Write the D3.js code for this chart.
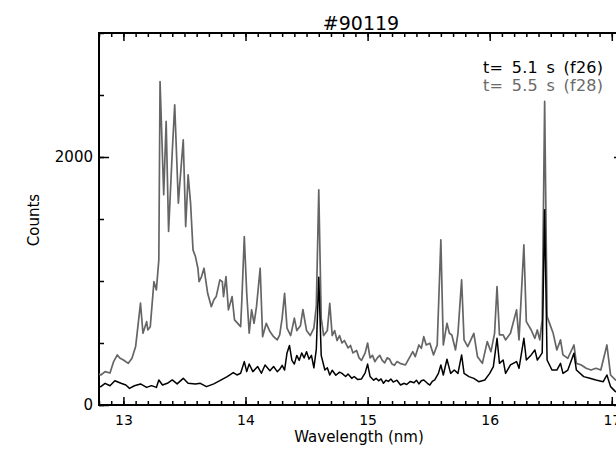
<!DOCTYPE html>
<html>
<head>
<meta charset="utf-8">
<script src="https://cdn.jsdelivr.net/npm/d3@7"></script>
<style>
  body { margin: 0; background: #fff; }
  svg { display: block; overflow: hidden; }
  text { font-family: "DejaVu Sans", sans-serif; }
</style>
</head>
<body>
<script>
// Spectrum #90119, two time frames
const wlLate = [12.80, 12.815, 12.85, 12.89, 12.92, 12.95, 12.97, 13.00, 13.04, 13.07, 13.10, 13.14, 13.16, 13.19, 13.20, 13.22,
  13.25, 13.27, 13.29, 13.30, 13.33, 13.35, 13.37, 13.40, 13.42, 13.45, 13.46, 13.49, 13.51, 13.53, 13.55, 13.57,
  13.59, 13.61, 13.62, 13.64, 13.66, 13.69, 13.72, 13.74, 13.76, 13.79, 13.81, 13.82, 13.84, 13.86, 13.89, 13.91,
  13.96, 13.97, 13.99, 14.01, 14.03, 14.05, 14.07, 14.09, 14.12, 14.14, 14.17, 14.20, 14.23, 14.26, 14.28, 14.30,
  14.32, 14.34, 14.37, 14.40, 14.42, 14.45, 14.47, 14.50, 14.53, 14.56, 14.58, 14.60, 14.62, 14.64, 14.67, 14.69,
  14.71, 14.73, 14.75, 14.77, 14.79, 14.81, 14.84, 14.86, 14.88, 14.91, 14.93, 14.95, 14.98, 15.00, 15.02, 15.04,
  15.06, 15.08, 15.10, 15.12, 15.14, 15.16, 15.18, 15.20, 15.22, 15.24,
  15.266, 15.31, 15.37, 15.39, 15.42, 15.44, 15.46, 15.48, 15.51, 15.54, 15.57, 15.60, 15.62, 15.65, 15.67, 15.69,
  15.72, 15.74, 15.77, 15.79, 15.82, 15.87, 15.90, 15.94, 15.98, 16.01, 16.04, 16.06, 16.08, 16.11, 16.13, 16.17,
  16.22, 16.24, 16.28, 16.30, 16.34, 16.37, 16.39, 16.41, 16.43, 16.45, 16.47, 16.50, 16.52, 16.55, 16.58, 16.60,
  16.64, 16.69, 16.71, 16.75, 16.79, 16.83, 16.87, 16.91, 16.96, 16.99, 17.03, 17.10];
const countsLate = [250, 242, 269, 258, 350, 404, 379, 363, 336, 377, 471, 821, 579, 672, 605, 632,
  995, 928, 1170, 2609, 1695, 2287, 1399, 2040, 2421, 1628, 1762, 2139, 1439, 1856, 1628, 1251,
  1197, 1103, 995, 1036, 1103, 901, 793, 847, 874, 1009, 995, 874, 1036, 767, 874, 686,
  632, 847, 1358, 901, 579, 767, 659, 793, 1103, 551, 659, 592, 551, 525, 565, 700,
  900, 620, 560, 700, 600, 640, 770, 600, 560, 620, 800, 1735, 700, 560, 600, 820,
  560, 600, 520, 560, 500, 520, 460, 480, 420, 440, 380, 360, 420, 500, 380, 400,
  350, 380, 400, 360, 340, 380, 370, 330, 320, 350,
  336, 323, 430, 390, 484, 457, 551, 484, 498, 404, 484, 1332, 484, 659, 578, 565,
  444, 578, 1009, 525, 471, 578, 390, 336, 511, 430, 578, 955, 565, 565, 525, 578,
  767, 525, 1291, 672, 605, 538, 605, 525, 686, 2448, 713, 632, 578, 444, 525, 404,
  377, 484, 336, 323, 296, 282, 296, 282, 484, 242, 202, 180];

const wlEarly = [12.80, 12.815, 12.85, 12.89, 12.93, 12.98, 13.02, 13.05, 13.09, 13.14, 13.19, 13.23, 13.27, 13.29, 13.32, 13.36,
  13.40, 13.44, 13.49, 13.53, 13.59, 13.63, 13.68, 13.74, 13.79, 13.85, 13.90, 13.93, 13.96, 13.99, 14.01, 14.03,
  14.06, 14.10, 14.13, 14.16, 14.20, 14.23, 14.26, 14.28, 14.30, 14.32, 14.34, 14.36, 14.38, 14.40, 14.42, 14.44,
  14.46, 14.48, 14.50, 14.52, 14.54, 14.56, 14.58, 14.60, 14.62, 14.65, 14.67, 14.69, 14.71, 14.74, 14.77, 14.79,
  14.82, 14.84, 14.87, 14.89, 14.92, 14.95, 14.98, 15.00, 15.02, 15.05, 15.07, 15.09, 15.11, 15.13, 15.15, 15.17,
  15.19, 15.21, 15.24, 15.27, 15.30, 15.32, 15.35, 15.38, 15.40, 15.42, 15.44, 15.46, 15.49, 15.51, 15.53, 15.55,
  15.58, 15.60, 15.62, 15.65, 15.68, 15.71, 15.74, 15.77,
  15.79, 15.83, 15.87, 15.91, 15.96, 16.00, 16.03, 16.06, 16.08, 16.11, 16.13, 16.17, 16.22, 16.24, 16.28, 16.30,
  16.34, 16.37, 16.39, 16.41, 16.43, 16.45, 16.47, 16.51, 16.55, 16.58, 16.60, 16.64, 16.69, 16.71, 16.77, 16.82,
  16.87, 16.93, 16.96, 16.99, 17.03, 17.10];
const countsEarly = [150, 148, 175, 155, 196, 175, 161, 134, 155, 170, 142, 156, 142, 202, 161, 175,
  202, 170, 215, 175, 170, 175, 148, 170, 196, 229, 261, 242, 256, 350, 269, 331,
  269, 310, 256, 323, 277, 310, 269, 288, 320, 282, 420, 480, 360, 330, 400, 360,
  420, 380, 430, 370, 400, 300, 450, 1030, 400, 282, 300, 242, 280, 240, 265, 255,
  230, 250, 215, 230, 205, 210, 260, 330, 230, 200, 215, 195, 210, 175, 200, 190,
  210, 185, 200, 161, 175, 165, 190, 180, 200, 170, 195, 202, 175, 161, 190, 202,
  255, 323, 242, 369, 255, 282, 255, 404,
  255, 229, 215, 188, 202, 255, 309, 538, 336, 363, 255, 323, 350, 296, 538, 363,
  404, 444, 363, 390, 420, 1574, 363, 282, 282, 336, 255, 282, 417, 282, 229, 215,
  202, 188, 242, 148, 108, 100];

const xTicks = [13, 14, 15, 16, 17];
const yTicks = [0, 2000];
const legendLines = ["t= 5.1 s (f26)", "t= 5.5 s (f28)"];

const width = 616, height = 450;
const margin = { left: 99, right: 624, top: 33, bottom: 405 };

const x = d3.scaleLinear().domain([12.8, 17.1]).range([margin.left, margin.right]);
const y = d3.scaleLinear().domain([0, 3000]).range([margin.bottom, margin.top]);

const svg = d3.select("body").append("svg")
    .attr("width", width)
    .attr("height", height);

// frame
svg.append("rect")
    .attr("x", margin.left).attr("y", margin.top)
    .attr("width", margin.right - margin.left).attr("height", margin.bottom - margin.top)
    .attr("fill", "none").attr("stroke", "#000").attr("stroke-width", 2);

const minorX = d3.range(128, 172).map(d => d / 10);
const minorY = d3.range(0, 3001, 500);

function axisStyle(g) {
  g.select(".domain").remove();
  g.selectAll("line").attr("stroke", "#000").attr("stroke-width", 1.5);
  g.selectAll("text").attr("fill", "#000").attr("font-size", 14)
      .attr("font-family", "DejaVu Sans, sans-serif");
}

// bottom
svg.append("g").attr("transform", `translate(0,${margin.bottom})`)
    .call(d3.axisBottom(x).tickValues(minorX).tickSize(-4).tickFormat(""))
    .call(axisStyle);
svg.append("g").attr("transform", `translate(0,${margin.bottom})`)
    .call(d3.axisBottom(x).tickValues(xTicks).tickSize(-8).tickPadding(10).tickFormat(d3.format("d")))
    .call(axisStyle);
// top
svg.append("g").attr("transform", `translate(0,${margin.top})`)
    .call(d3.axisTop(x).tickValues(minorX).tickSize(-4).tickFormat(""))
    .call(axisStyle);
svg.append("g").attr("transform", `translate(0,${margin.top})`)
    .call(d3.axisTop(x).tickValues(xTicks).tickSize(-8).tickFormat(""))
    .call(axisStyle);
// left
svg.append("g").attr("transform", `translate(${margin.left},0)`)
    .call(d3.axisLeft(y).tickValues(minorY).tickSize(-5).tickFormat(""))
    .call(axisStyle);
svg.append("g").attr("transform", `translate(${margin.left},0)`)
    .call(d3.axisLeft(y).tickValues(yTicks).tickSize(-10).tickPadding(6).tickFormat(d3.format("d")))
    .call(axisStyle)
    .selectAll("text").attr("font-size", 15);
// right
svg.append("g").attr("transform", `translate(${margin.right},0)`)
    .call(d3.axisRight(y).tickValues(minorY).tickSize(-5).tickFormat(""))
    .call(axisStyle);
svg.append("g").attr("transform", `translate(${margin.right},0)`)
    .call(d3.axisRight(y).tickValues(yTicks).tickSize(-10).tickFormat(""))
    .call(axisStyle);

const line = d3.line().x(d => x(d[0])).y(d => y(d[1]));

svg.append("path")
    .datum(d3.zip(wlLate, countsLate))
    .attr("d", line)
    .attr("fill", "none")
    .attr("stroke", "#656565")
    .attr("stroke-width", 1.7)
    .attr("stroke-linejoin", "round");

svg.append("path")
    .datum(d3.zip(wlEarly, countsEarly))
    .attr("d", line)
    .attr("fill", "none")
    .attr("stroke", "#000")
    .attr("stroke-width", 1.5)
    .attr("stroke-linejoin", "round");

// titles
svg.append("text")
    .attr("x", 361).attr("y", 30)
    .attr("text-anchor", "middle")
    .attr("font-size", 19)
    .text("#90119");

svg.append("text")
    .attr("x", 359).attr("y", 442)
    .attr("text-anchor", "middle")
    .attr("font-size", 15)
    .text("Wavelength (nm)");

svg.append("text")
    .attr("transform", "translate(39,220) rotate(-90)")
    .attr("text-anchor", "middle")
    .attr("font-size", 15)
    .text("Counts");

// legend
svg.append("g").selectAll("text")
  .data(legendLines)
  .join("text")
    .attr("x", 483)
    .attr("y", (d, i) => 73 + i * 18)
    .attr("font-size", 16)
    .attr("word-spacing", 3)
    .attr("letter-spacing", 0.3)
    .attr("fill", (d, i) => i === 0 ? "#000" : "#6a6a6a")
    .style("white-space", "pre")
    .text(d => d);
</script>
</body>
</html>
